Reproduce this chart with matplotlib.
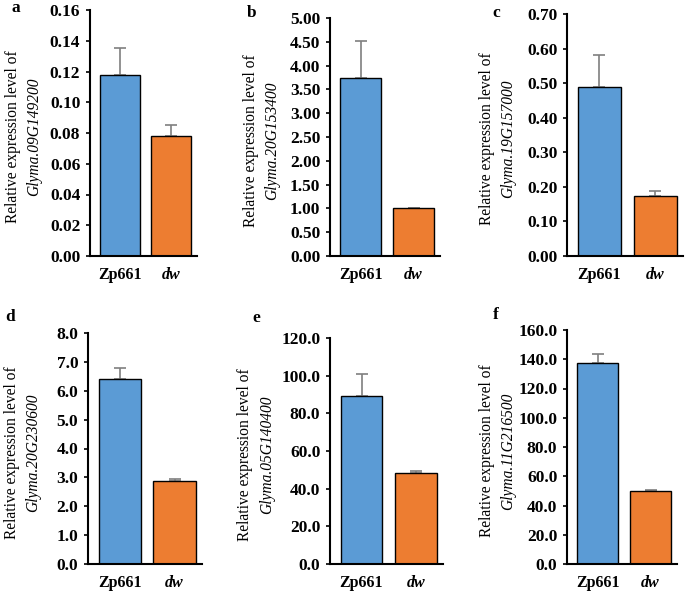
import matplotlib
matplotlib.use("Agg")
import matplotlib.pyplot as plt
import numpy as np

genotypes = ["Zp661", "dw"]
panel_letters = ["a", "b", "c", "d", "e", "f"]
genes = ["Glyma.09G149200", "Glyma.20G153400", "Glyma.19G157000",
         "Glyma.20G230600", "Glyma.05G140400", "Glyma.11G216500"]

val_a = [0.118, 0.078]; err_a = [0.017, 0.007]
val_b = [3.74, 1.00];   err_b = [0.78, 0.01]
val_c = [0.490, 0.173]; err_c = [0.090, 0.015]
val_d = [6.42, 2.88];   err_d = [0.38, 0.07]
val_e = [89.0, 48.5];   err_e = [12.0, 1.0]
val_f = [137.5, 49.8];  err_f = [6.0, 0.5]

values = [val_a, val_b, val_c, val_d, val_e, val_f]
errors = [err_a, err_b, err_c, err_d, err_e, err_f]

yticks_a = [0.00, 0.02, 0.04, 0.06, 0.08, 0.10, 0.12, 0.14, 0.16]
yticks_b = [0.00, 0.50, 1.00, 1.50, 2.00, 2.50, 3.00, 3.50, 4.00, 4.50, 5.00]
yticks_c = [0.00, 0.10, 0.20, 0.30, 0.40, 0.50, 0.60, 0.70]
yticks_d = [0.0, 1.0, 2.0, 3.0, 4.0, 5.0, 6.0, 7.0, 8.0]
yticks_e = [0.0, 20.0, 40.0, 60.0, 80.0, 100.0, 120.0]
yticks_f = [0.0, 20.0, 40.0, 60.0, 80.0, 100.0, 120.0, 140.0, 160.0]
yticks = [yticks_a, yticks_b, yticks_c, yticks_d, yticks_e, yticks_f]
ydec = [2, 2, 2, 1, 1, 1]

colors = ["#5B9BD5", "#ED7D31"]

W, H = 685, 594
fig = plt.figure(figsize=(W / 100, H / 100), dpi=100)

# axes pixel rects: (x0, x1, ytop, ybottom)
rects = [(90, 197, 10, 256), (330, 440, 18, 256), (567, 683, 14, 256),
         (88, 202, 333, 564), (330, 443, 338, 564), (567, 677, 330, 564)]
letter_pos = [(11, 8), (247, 13), (492, 13), (5, 317), (252, 318), (493, 315)]
label_x = [(13, 34), (251, 272), (487, 508), (12, 33), (245, 267), (487, 508)]

serif = "Liberation Serif"

for i in range(6):
    x0, x1, yt, yb = rects[i]
    ax = fig.add_axes([x0 / W, 1 - yb / H, (x1 - x0) / W, (yb - yt) / H])
    xs = np.arange(len(genotypes))
    ax.bar(xs, values[i], width=0.77, color=colors, edgecolor="black", linewidth=1.0, zorder=2)
    ax.errorbar(xs, values[i], yerr=[[0, 0], errors[i]], fmt="none", ecolor="#7f7f7f",
                elinewidth=1.2, capsize=4, capthick=1.2, zorder=1)
    ax.set_xlim(-0.58, 1.5)
    ax.set_ylim(yticks[i][0], yticks[i][-1])
    ax.set_yticks(yticks[i])
    ax.set_yticklabels([f"{t:.{ydec[i]}f}" for t in yticks[i]], fontfamily=serif,
                       fontweight="bold", fontsize=12.5)
    ax.set_xticks(xs)
    ax.set_xticklabels(genotypes, fontfamily=serif, fontweight="bold", fontsize=11.5)
    ax.get_xticklabels()[1].set_fontstyle("italic")
    ax.tick_params(axis="x", length=0, pad=8)
    ax.tick_params(axis="y", direction="out", length=3, width=1.2, pad=4)
    for s in ["top", "right"]:
        ax.spines[s].set_visible(False)
    for s in ["left", "bottom"]:
        ax.spines[s].set_linewidth(1.5)
    ymid = 1 - ((yt + yb) / 2 + 4) / H
    fig.text(label_x[i][0] / W, ymid, "Relative expression level of", rotation=90,
             ha="center", va="center", fontfamily=serif, fontsize=11.2)
    fig.text(label_x[i][1] / W, ymid, genes[i], rotation=90, ha="center", va="center",
             fontfamily=serif, fontsize=11.2, fontstyle="italic")
    lx, ly = letter_pos[i]
    fig.text(lx / W, 1 - ly / H, panel_letters[i], ha="left", va="center",
             fontfamily=serif, fontweight="bold", fontsize=12.5)

fig.savefig("out.png", dpi=100)
